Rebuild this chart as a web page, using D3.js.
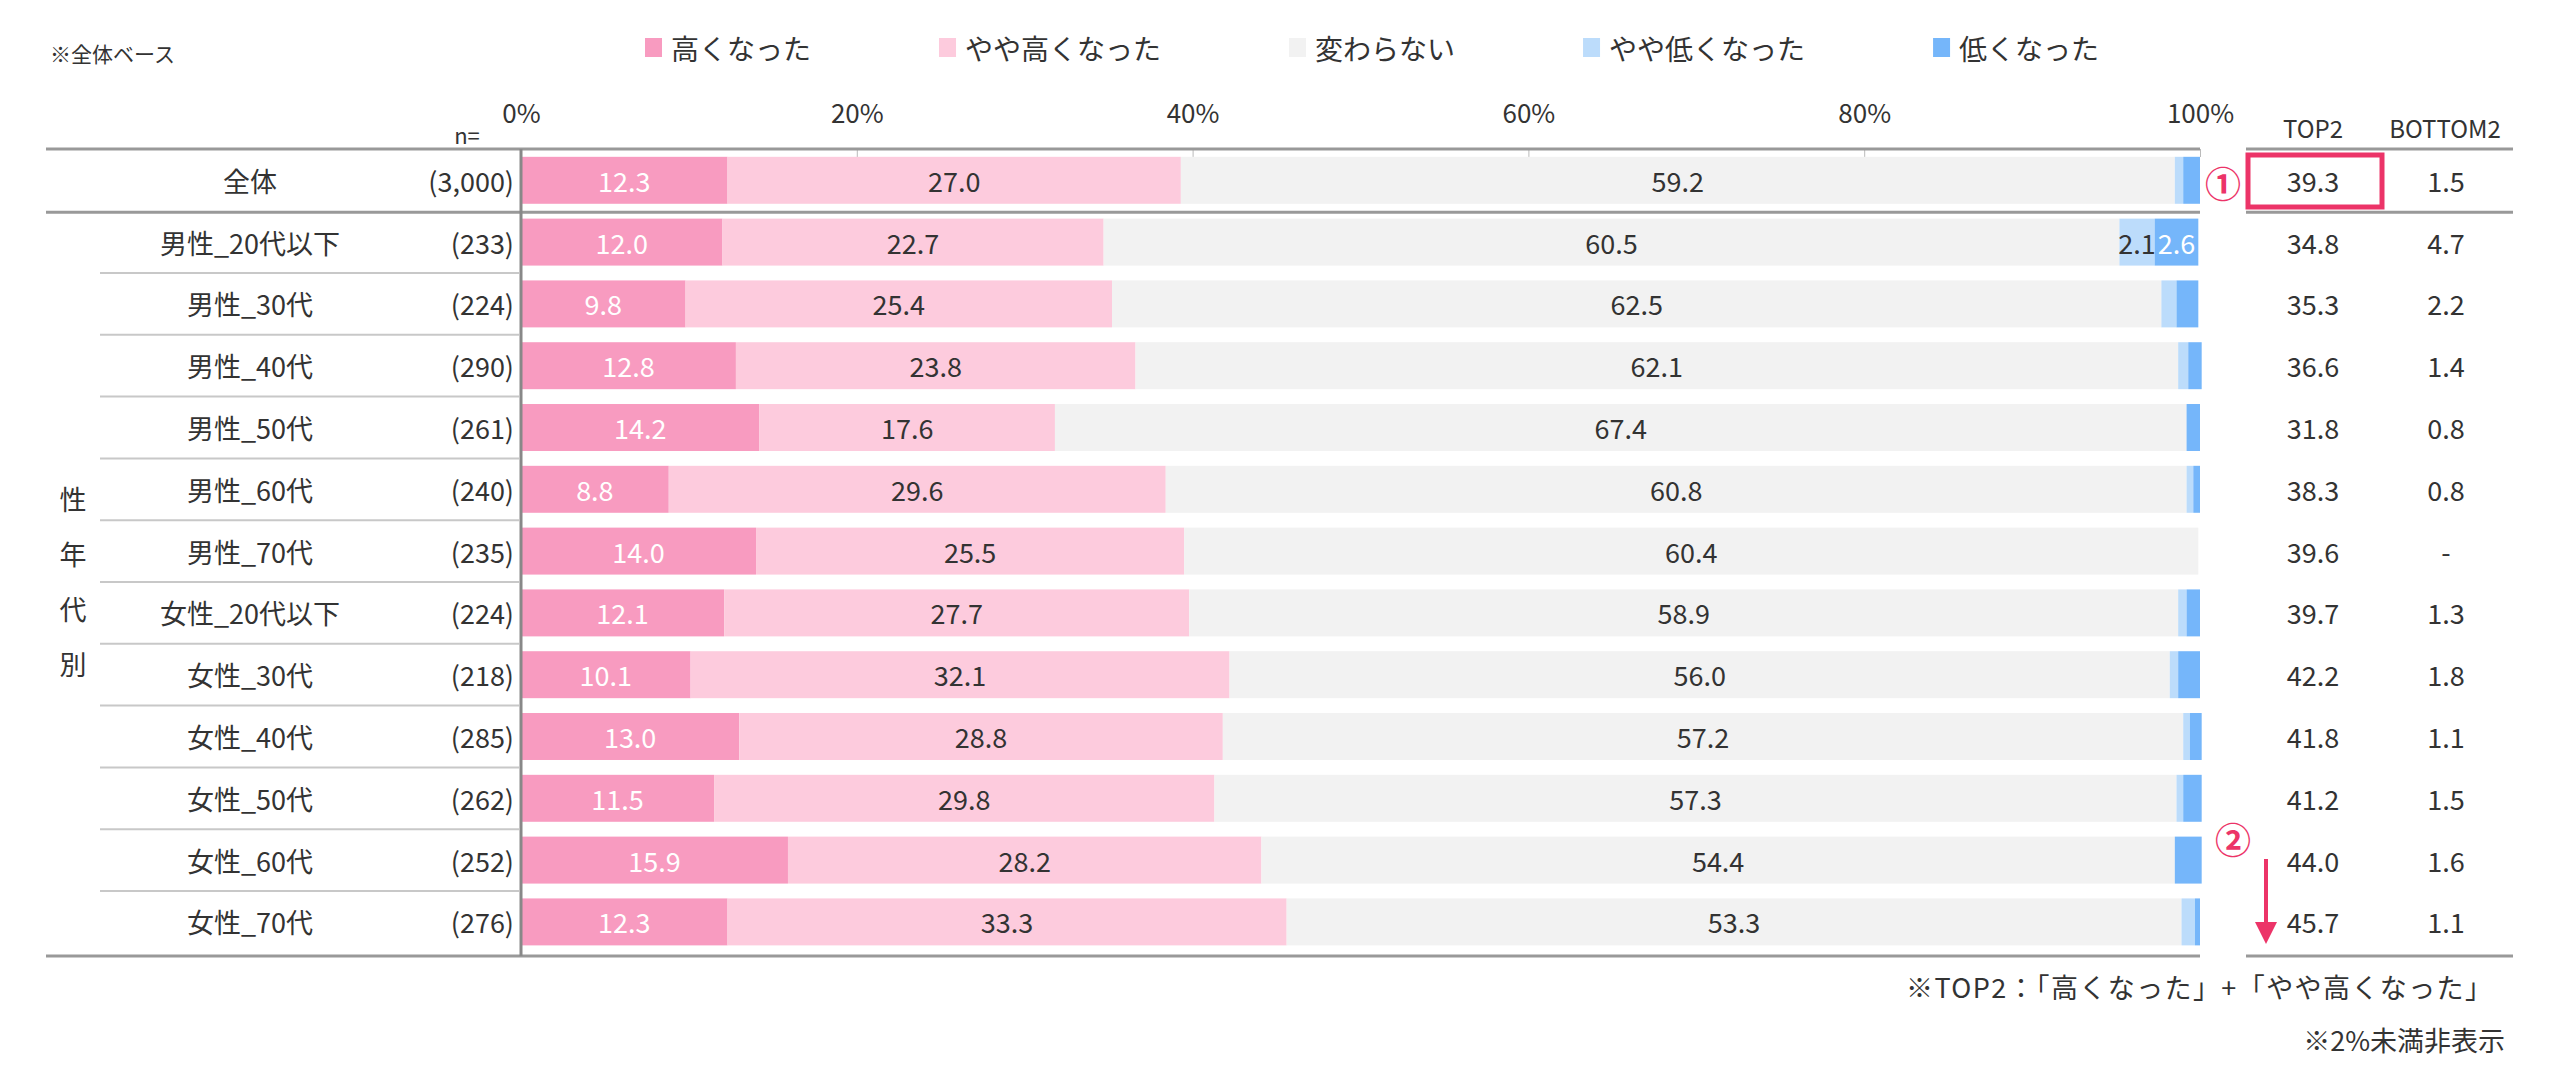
<!DOCTYPE html>
<html>
<head>
<meta charset="utf-8">
<script src="https://cdn.jsdelivr.net/npm/d3@7"></script>
<style>
  body { margin: 0; background: #fff; }
  svg text { font-family: "Noto Sans CJK JP", "Noto Sans", sans-serif; fill: #333; }
</style>
</head>
<body>
<svg id="chart"></svg>
<script>
var categories = ["全体", "男性_20代以下", "男性_30代", "男性_40代", "男性_50代", "男性_60代", "男性_70代",
  "女性_20代以下", "女性_30代", "女性_40代", "女性_50代", "女性_60代", "女性_70代"];
var nValues = ["(3,000)", "(233)", "(224)", "(290)", "(261)", "(240)", "(235)",
  "(224)", "(218)", "(285)", "(262)", "(252)", "(276)"];
var seriesNames = ["高くなった", "やや高くなった", "変わらない", "やや低くなった", "低くなった"];
var seriesColors = ["#f89bc0", "#fdcbdd", "#f2f2f2", "#bcdcfb", "#75b6fa"];
var labelColors = ["#fff", "#333", "#333", "#333", "#fff"];

var high =         [12.3, 12.0,  9.8, 12.8, 14.2,  8.8, 14.0, 12.1, 10.1, 13.0, 11.5, 15.9, 12.3];
var slightlyHigh = [27.0, 22.7, 25.4, 23.8, 17.6, 29.6, 25.5, 27.7, 32.1, 28.8, 29.8, 28.2, 33.3];
var same =         [59.2, 60.5, 62.5, 62.1, 67.4, 60.8, 60.4, 58.9, 56.0, 57.2, 57.3, 54.4, 53.3];
var slightlyLow =  [ 0.5,  2.1,  0.9,  0.6,  0.0,  0.4,  0.0,  0.5,  0.5,  0.4,  0.4,  0.0,  0.8];
var low =          [ 1.0,  2.6,  1.3,  0.8,  0.8,  0.4,  0.0,  0.8,  1.3,  0.7,  1.1,  1.6,  0.3];

var top2 =    ["39.3", "34.8", "35.3", "36.6", "31.8", "38.3", "39.6", "39.7", "42.2", "41.8", "41.2", "44.0", "45.7"];
var bottom2 = ["1.5", "4.7", "2.2", "1.4", "0.8", "0.8", "-", "1.3", "1.8", "1.1", "1.5", "1.6", "1.1"];
var xTicks = [0, 20, 40, 60, 80, 100];

var width = 2560, height = 1066;
var svg = d3.select("#chart").attr("width", width).attr("height", height);

var x = d3.scaleLinear().domain([0, 100]).range([521, 2200]);
var y = d3.scaleBand().domain(categories).range([147.4, 950.8]).padding(0);
var barH = y.bandwidth() * 0.76;

// rows for the stack
var rows = categories.map(function(c, i) {
  return { cat: c, s0: high[i], s1: slightlyHigh[i], s2: same[i], s3: slightlyLow[i], s4: low[i] };
});
var stack = d3.stack().keys(["s0", "s1", "s2", "s3", "s4"]);
var layers = stack(rows);

// top note
svg.append("text")
    .attr("x", 50).attr("y", 53)
    .attr("dominant-baseline", "central")
    .attr("font-size", 21)
    .text("※全体ベース");

// legend (flows left to right)
var lx = 645;
seriesNames.forEach(function(name, i) {
  svg.append("rect")
      .attr("x", lx).attr("y", 38)
      .attr("width", 17).attr("height", 19)
      .attr("fill", seriesColors[i]);
  var t = svg.append("text")
      .attr("x", lx + 26).attr("y", 48)
      .attr("dominant-baseline", "central")
      .attr("font-size", 28)
      .text(name);
  lx = lx + 26 + t.node().getComputedTextLength() + 128;
});

// percent axis
var axis = svg.append("g")
    .attr("transform", "translate(0,123)")
    .call(d3.axisTop(x).tickValues(xTicks).tickSize(0).tickPadding(0).tickFormat(function(d) { return d + "%"; }));
axis.select(".domain").remove();
axis.selectAll("text").attr("font-size", 26).style("font-family", "Noto Sans CJK JP").attr("fill", "#333");

// short ticks under the top line
var grid = svg.append("g")
    .attr("transform", "translate(0,149)")
    .call(d3.axisBottom(x).tickValues(xTicks.slice(1)).tickSize(8).tickFormat(""));
grid.select(".domain").remove();
grid.selectAll("line").attr("stroke", "#bbb").attr("stroke-width", 1);

svg.append("text")
    .attr("x", 467).attr("y", 134)
    .attr("text-anchor", "middle")
    .attr("dominant-baseline", "central")
    .attr("font-size", 22)
    .text("n=");

// column headers
svg.append("text").attr("x", 2313).attr("y", 127).attr("text-anchor", "middle")
    .attr("dominant-baseline", "central").attr("font-size", 24).text("TOP2");
svg.append("text").attr("x", 2445).attr("y", 127).attr("text-anchor", "middle")
    .attr("dominant-baseline", "central").attr("font-size", 24).text("BOTTOM2");

// thin row separators in the label area
svg.selectAll(".sep")
  .data(categories.slice(2))
  .enter().append("line")
    .attr("x1", 100).attr("x2", 519)
    .attr("y1", function(d) { return y(d) + 2; })
    .attr("y2", function(d) { return y(d) + 2; })
    .attr("stroke", "#c8c8c8").attr("stroke-width", 2);

// bars
var layer = svg.selectAll(".layer")
  .data(layers)
  .enter().append("g")
    .attr("fill", function(d, i) { return seriesColors[i]; });

layer.selectAll("rect")
  .data(function(d) { return d; })
  .enter().append("rect")
    .attr("x", function(d) { return x(d[0]); })
    .attr("y", function(d) { return y(d.data.cat) + (y.bandwidth() - barH) / 2 + 2; })
    .attr("width", function(d) { return x(d[1]) - x(d[0]); })
    .attr("height", barH);

// bar value labels (2% or more)
layers.forEach(function(l, i) {
  svg.append("g").selectAll("text")
    .data(l.filter(function(d) { return d[1] - d[0] >= 2; }))
    .enter().append("text")
      .attr("x", function(d) { return (x(d[0]) + x(d[1])) / 2; })
      .attr("y", function(d) { return y(d.data.cat) + y.bandwidth() / 2 + 2; })
      .attr("text-anchor", "middle")
      .attr("dominant-baseline", "central")
      .attr("font-size", 27)
      .style("fill", labelColors[i])
      .text(function(d) { return (d[1] - d[0]).toFixed(1); });
});

// row labels and n
categories.forEach(function(c, i) {
  var cy = y(c) + y.bandwidth() / 2 + 2;
  svg.append("text").attr("x", 250).attr("y", cy)
      .attr("text-anchor", "middle").attr("dominant-baseline", "central")
      .attr("font-size", 27).text(c);
  svg.append("text").attr("x", 514).attr("y", cy)
      .attr("text-anchor", "end").attr("dominant-baseline", "central")
      .attr("font-size", 27).text(nValues[i]);
  svg.append("text").attr("x", 2313).attr("y", cy)
      .attr("text-anchor", "middle").attr("dominant-baseline", "central")
      .attr("font-size", 27).text(top2[i]);
  svg.append("text").attr("x", 2446).attr("y", cy)
      .attr("text-anchor", "middle").attr("dominant-baseline", "central")
      .attr("font-size", 27).text(bottom2[i]);
});

// vertical group label
["性", "年", "代", "別"].forEach(function(ch, i) {
  svg.append("text").attr("x", 73).attr("y", 498 + i * 55)
      .attr("text-anchor", "middle").attr("dominant-baseline", "central")
      .attr("font-size", 27).text(ch);
});

// heavy lines: top, under 全体, bottom
[149, y(categories[1]) + 3, 956].forEach(function(ly) {
  svg.append("line").attr("x1", 46).attr("x2", 2200).attr("y1", ly).attr("y2", ly)
      .attr("stroke", "#999").attr("stroke-width", 3);
  svg.append("line").attr("x1", 2246).attr("x2", 2513).attr("y1", ly).attr("y2", ly)
      .attr("stroke", "#999").attr("stroke-width", 3);
});

// 0% axis line
svg.append("line").attr("x1", x(0)).attr("x2", x(0)).attr("y1", 149).attr("y2", 956)
    .attr("stroke", "#888").attr("stroke-width", 3);

// highlight marks
var red = "#ec3468";
svg.append("rect").attr("x", 2248).attr("y", 155).attr("width", 134).attr("height", 52)
    .attr("fill", "none").attr("stroke", red).attr("stroke-width", 5);
svg.append("text").attr("x", 2223).attr("y", 182).attr("text-anchor", "middle")
    .attr("dominant-baseline", "central").attr("font-size", 36).attr("font-weight", "bold")
    .style("fill", red).text("①");
svg.append("text").attr("x", 2233).attr("y", 838).attr("text-anchor", "middle")
    .attr("dominant-baseline", "central").attr("font-size", 36).attr("font-weight", "bold")
    .style("fill", red).text("②");
svg.append("line").attr("x1", 2266).attr("x2", 2266).attr("y1", 859).attr("y2", 924)
    .attr("stroke", red).attr("stroke-width", 4);
svg.append("path").attr("d", "M2255,922L2277,922L2266,944Z").attr("fill", red);

// footnotes
svg.append("text").attr("x", 2492).attr("y", 986).attr("text-anchor", "end")
    .attr("dominant-baseline", "central").attr("font-size", 27)
    .attr("textLength", 586).attr("lengthAdjust", "spacing")
    .text("※TOP2：「高くなった」+「やや高くなった」");
svg.append("text").attr("x", 2505).attr("y", 1039).attr("text-anchor", "end")
    .attr("dominant-baseline", "central").attr("font-size", 27)
    .text("※2%未満非表示");
</script>
</body>
</html>
